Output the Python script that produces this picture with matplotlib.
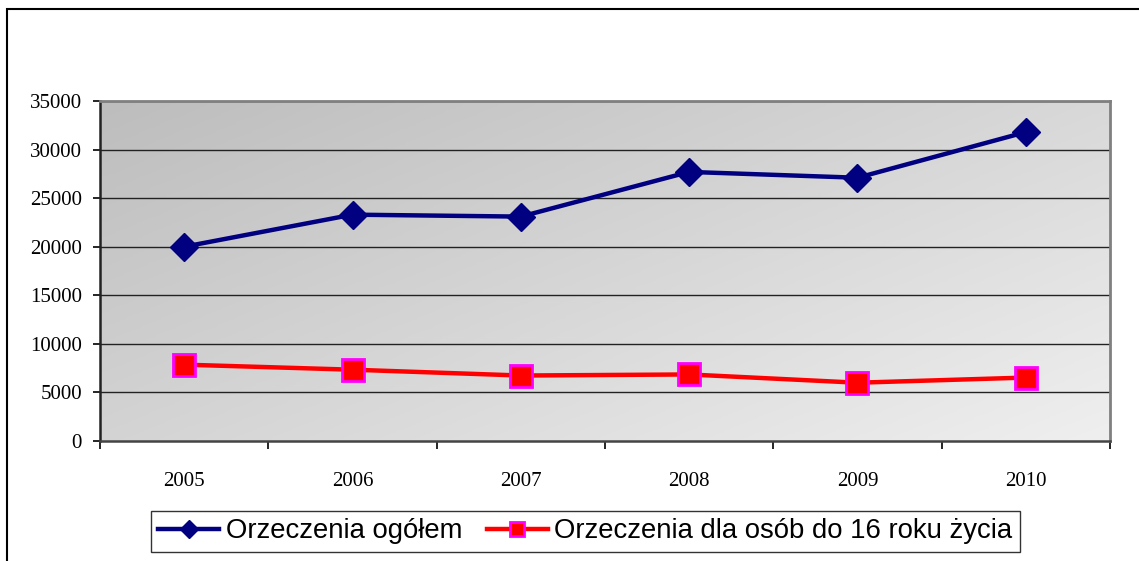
import numpy as np
import matplotlib
matplotlib.use("Agg")
import matplotlib.pyplot as plt
from matplotlib.patches import Rectangle
from matplotlib.colors import LinearSegmentedColormap

years = ["2005", "2006", "2007", "2008", "2009", "2010"]
ogolem = [20000, 23300, 23100, 27700, 27100, 31800]
do16 = [7860, 7340, 6740, 6850, 6000, 6530]
series_labels = ["Orzeczenia ogółem", "Orzeczenia dla osób do 16 roku życia"]
yticks = [0, 5000, 10000, 15000, 20000, 25000, 30000, 35000]

W, H = 1139, 561
fig = plt.figure(figsize=(W / 100, H / 100), dpi=100)
fig.patch.set_facecolor("white")

ax = fig.add_axes([100 / W, 1 - 441 / H, 1010 / W, 340 / H])
x = np.arange(len(years))
ax.set_xlim(-0.5, len(years) - 0.5)
ax.set_ylim(0, 35000)

# gradient background (dark top-left -> light bottom-right)
cmap = LinearSegmentedColormap.from_list("g", ["#bdbdbd", "#efefef"])
gx, gy = np.meshgrid(np.linspace(0, 1, 200), np.linspace(0, 1, 200))
grad = gx * 0.55 + gy * 0.45
ax.imshow(grad, cmap=cmap, extent=[0, 1, 0, 1], transform=ax.transAxes,
          aspect="auto", origin="upper", zorder=0, interpolation="bilinear")

for v in yticks[1:]:
    ax.axhline(v, color="#222222", lw=1.0, zorder=1)

ax.plot(x, ogolem, color="#000080", lw=3.2, marker="D", ms=14.5,
        mfc="#000080", mec="#000080", label=series_labels[0], zorder=3)
ax.plot(x, do16, color="#ff0000", lw=3.2, marker="s", ms=16.5,
        mfc="#ff0000", mec="#ff00ff", mew=2, label=series_labels[1], zorder=3)

ax.set_yticks(yticks)
ax.set_yticklabels([str(v) for v in yticks], fontfamily="Liberation Serif", fontsize=15)
ax.set_xticks(np.arange(len(years) + 1) - 0.5, minor=False)
ax.set_xticklabels([])
ax.set_xticks(x, minor=True)
ax.set_xticklabels(years, minor=True, fontfamily="Liberation Serif", fontsize=15)
ax.tick_params(axis="x", which="minor", length=0, pad=22)
ax.tick_params(axis="x", which="major", length=6, width=1.2, color="#000000", direction="out")
ax.tick_params(axis="y", length=5, width=1.2, pad=8, direction="out")

ax.spines["left"].set_color("#222222")
ax.spines["left"].set_linewidth(1.8)
ax.spines["bottom"].set_color("#444444")
ax.spines["bottom"].set_linewidth(1.8)
ax.spines["top"].set_color("#808080")
ax.spines["top"].set_linewidth(2)
ax.spines["right"].set_color("#808080")
ax.spines["right"].set_linewidth(2)

leg = fig.legend(loc="center", bbox_to_anchor=(585.5 / W, 1 - 531.5 / H), ncol=2,
                 prop={"family": "Liberation Sans", "size": 19.8},
                 frameon=True, fancybox=False, edgecolor="black",
                 handlelength=2.2, handletextpad=0.25, columnspacing=0.9,
                 borderpad=0.28, borderaxespad=0, markerscale=0.62)
leg.get_frame().set_linewidth(1.0)

fig.add_artist(Rectangle((7 / W, -0.5), 2, 1 - 9 / H + 0.5, transform=fig.transFigure,
                         fill=False, edgecolor="black", lw=1.5, clip_on=False))

fig.savefig("out.png", dpi=100)
